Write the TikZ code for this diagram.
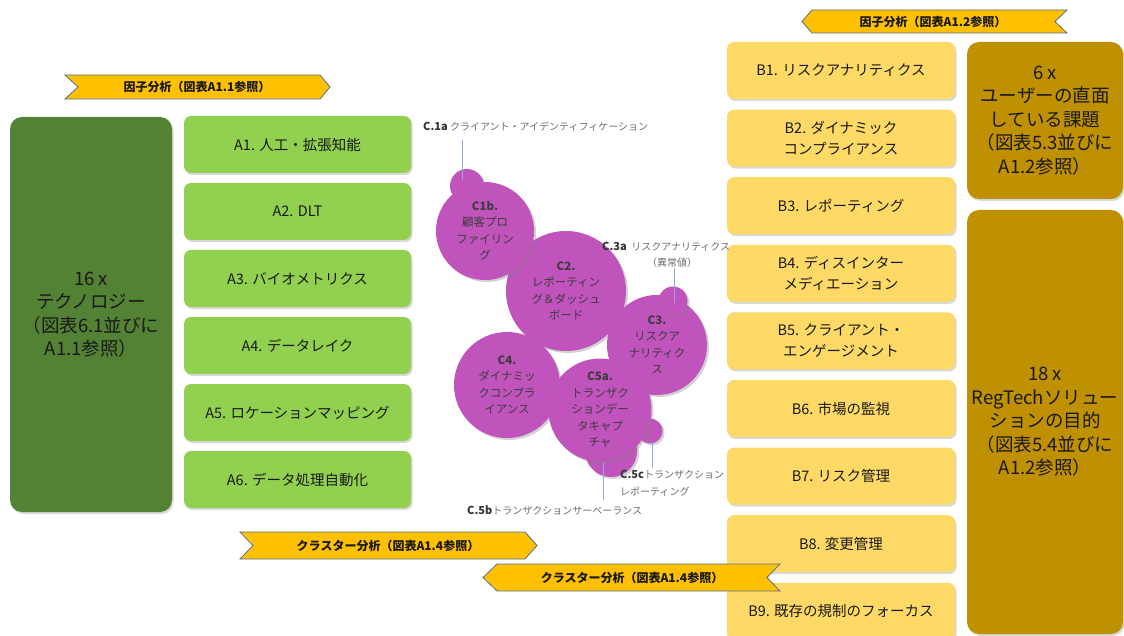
\documentclass[tikz,border=0pt]{standalone}
\usepackage{fontspec}
\setmainfont{Noto Sans CJK JP}
\usetikzlibrary{shadows}
\definecolor{dkgreen}{RGB}{84,130,53}
\definecolor{ltgreen}{RGB}{146,208,80}
\definecolor{ltyellow}{RGB}{255,217,102}
\definecolor{dkgold}{RGB}{191,144,0}
\definecolor{bannerfill}{RGB}{255,192,0}
\definecolor{bannerline}{RGB}{84,110,150}
\definecolor{purp}{RGB}{192,84,188}
\definecolor{annlinecol}{RGB}{142,169,219}
\definecolor{anntextcol}{RGB}{110,110,110}
\definecolor{circtext}{RGB}{60,60,60}
\tikzset{
  gbox/.style={fill=ltgreen, rounded corners=7pt, minimum width=227pt, minimum height=57pt, inner sep=0pt, align=center, text=black!90, font=\fontsize{14.5}{21}\selectfont, drop shadow={shadow xshift=1.5pt, shadow yshift=-2pt, opacity=0.3}},
  ybox/.style={gbox, fill=ltyellow, minimum width=228pt},
  bigbox/.style={rounded corners=12pt, inner sep=0pt, align=center, text=black!90, font=\fontsize{18.5}{23.5}\selectfont, drop shadow={shadow xshift=1.5pt, shadow yshift=-2pt, opacity=0.3}},
  circ/.style={circle, fill=purp, inner sep=0pt, align=center, text=circtext, font=\fontsize{11.5}{16.5}\selectfont, drop shadow={shadow xshift=2pt, shadow yshift=-2pt, opacity=0.35}},
  bannerpoly/.style={fill=bannerfill, draw=bannerline, line width=0.8pt},
  bantext/.style={font=\bfseries\fontsize{12}{14}\selectfont, text=black!90},
  annline/.style={draw=annlinecol, line width=0.8pt},
  anntext/.style={text=anntextcol, font=\fontsize{10}{16}\selectfont, anchor=west, inner sep=0pt},
}
\newcommand{\annlab}[1]{\textcolor{black!80}{\bfseries\fontsize{11}{16}\selectfont #1}}
\begin{document}
\begin{tikzpicture}[x=1pt,y=-1pt]
\useasboundingbox (0,0) rectangle (1124,636);
\fill[white] (0,0) rectangle (1124,636);

% ---------- left column ----------
\node[bigbox, fill=dkgreen, minimum width=162pt, minimum height=395pt] (tech) at (91,314.5)
  {16 x\\テクノロジー\\（図表6.1並びに\\A1.1参照）};

\node[gbox] (a1) at (297.5,144.5) {A1. 人工・拡張知能};
\node[gbox] (a2) at (297.5,211.5) {A2. DLT};
\node[gbox] (a3) at (297.5,278.5) {A3. バイオメトリクス};
\node[gbox] (a4) at (297.5,345.5) {A4. データレイク};
\node[gbox] (a5) at (297.5,412.5) {A5. ロケーションマッピング};
\node[gbox] (a6) at (297.5,479.5) {A6. データ処理自動化};

% ---------- right column ----------
\node[bigbox, fill=dkgold, minimum width=156pt, minimum height=157pt] (chal) at (1045,120.5)
  {6 x\\ユーザーの直面\\している課題\\（図表5.3並びに\\A1.2参照）};
\node[bigbox, fill=dkgold, minimum width=156pt, minimum height=424pt] (goal) at (1045,422)
  {18 x\\RegTechソリュー\\ションの目的\\（図表5.4並びに\\A1.2参照）};

\node[ybox] (b1) at (841,70.5) {B1. リスクアナリティクス};
\node[ybox] (b2) at (841,138.1) {B2. ダイナミック\\コンプライアンス};
\node[ybox] (b3) at (841,205.7) {B3. レポーティング};
\node[ybox] (b4) at (841,273.3) {B4. ディスインター\\メディエーション};
\node[ybox] (b5) at (841,340.9) {B5. クライアント・\\エンゲージメント};
\node[ybox] (b6) at (841,408.5) {B6. 市場の監視};
\node[ybox] (b7) at (841,476.1) {B7. リスク管理};
\node[ybox] (b8) at (841,543.7) {B8. 変更管理};
\node[ybox] (b9) at (841,611.3) {B9. 既存の規制のフォーカス};

% ---------- banners ----------
\draw[bannerpoly] (802,21.5) -- (812,10) -- (1067,10) -- (1055,21.5) -- (1067,33) -- (812,33) -- cycle;
\node[bantext] (ban1) at (933,21.5) {因子分析（図表A1.2参照）};

\draw[bannerpoly] (65,75) -- (320,75) -- (330,87) -- (320,99) -- (65,99) -- (78,87) -- cycle;
\node[bantext] (ban2) at (197,87) {因子分析（図表A1.1参照）};

\draw[bannerpoly] (240,532) -- (525,532) -- (537,545.5) -- (525,559) -- (240,559) -- (253,545.5) -- cycle;
\node[bantext] (ban3) at (388,545.5) {クラスター分析（図表A1.4参照）};

\draw[bannerpoly] (483,577.5) -- (497,564) -- (780,564) -- (767,577.5) -- (780,591) -- (497,591) -- cycle;
\node[bantext] (ban4) at (632,577.5) {クラスター分析（図表A1.4参照）};

% ---------- circles ----------
\node[circ, minimum size=34pt] (c1a) at (467,186) {};
\node[circ, minimum size=120pt] (c2) at (566,291) {\textbf{C2.}\\レポーティン\\グ＆ダッシュ\\ボード};
\node[circ, minimum size=98pt] (c1b) at (485,231) {\textbf{C1b.}\\顧客プロ\\ファイリン\\グ};
\node[circ, minimum size=100pt] (c3) at (657,345) {\textbf{C3.}\\リスクア\\ナリティク\\ス};
\node[circ, minimum size=29pt] (c3a) at (673,301) {};
\node[circ, minimum size=106pt] (c4) at (507,385) {\textbf{C4.}\\ダイナミッ\\クコンプラ\\イアンス};
\node[circ, minimum size=52pt] (c5b) at (611,451) {};
\node[circ, minimum size=25pt] (c5c) at (650,431) {};
\node[circ, minimum size=103pt] (c5a) at (600,410) {\textbf{C5a.}\\トランザク\\ションデー\\タキャプ\\チャ};

% ---------- annotations ----------
\node[anntext] (l1a) at (423,127) {\annlab{C.1a} クライアント・アイデンティフィケーション};
\coordinate (l1atop) at (462,140);
\coordinate (l1abot) at (462,180);
\draw[annline] (l1atop) -- (l1abot);

\node[anntext] (l3a) at (602,247) {\annlab{C.3a}\ \ リスクアナリティクス};
\node[anntext, anchor=center] (l3b) at (672,263) {（異常値）};
\coordinate (l3atop) at (674,268);
\coordinate (l3abot) at (674,303);
\draw[annline] (l3atop) -- (l3abot);

\node[anntext] (l5c) at (620,475) {\annlab{C.5c}トランザクション};
\node[anntext] (l5c2) at (620,492) {レポーティング};
\coordinate (l5ctop) at (652,443);
\coordinate (l5cbot) at (652,468);
\draw[annline] (l5ctop) -- (l5cbot);

\node[anntext] (l5b) at (467,510) {\annlab{C.5b}トランザクションサーベーランス};
\coordinate (l5btop) at (603,462);
\coordinate (l5bbot) at (603,500);
\draw[annline] (l5btop) -- (l5bbot);
\end{tikzpicture}
\end{document}
